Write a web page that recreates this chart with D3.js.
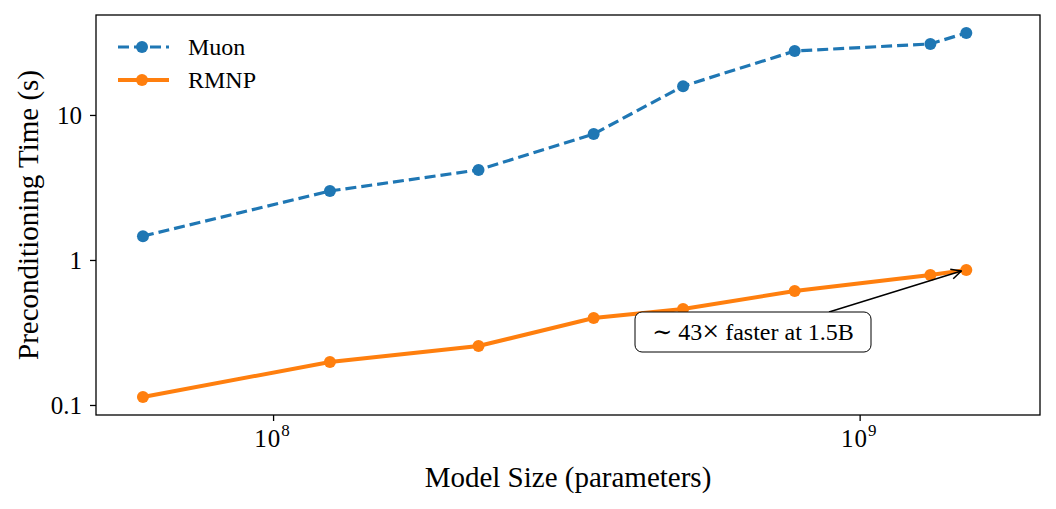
<!DOCTYPE html>
<html>
<script src="https://d3js.org/d3.v7.min.js"></script>

<head>
    <style>
        body {
            margin: 0;
            background-color: white;
            font-family: "Liberation Serif", "DejaVu Serif", serif;
        }
    </style>
</head>

<body>
    <div id="vis"></div>
</body>
<script>
    // model sizes (parameters) and preconditioning times (s)
    const modelSizes = [6.0e7, 1.25e8, 2.24e8, 3.52e8, 5.0e8, 7.75e8, 1.32e9, 1.52e9];
    const muonTimes = [1.46, 2.99, 4.18, 7.39, 15.8, 27.6, 30.9, 36.8];
    const rmnpTimes = [0.1135, 0.198, 0.255, 0.398, 0.459, 0.611, 0.788, 0.853];
    const yTicks = [0.1, 1, 10];
    const xTicks = [1e8, 1e9];

    const width = 1056,
        height = 509;
    const margin = { left: 96, right: 16, top: 15, bottom: 94 };

    const svg = d3.select("#vis").append("svg").attr("width", width).attr("height", height);

    const x = d3.scaleLog()
        .domain([4.99e7, 2.03e9])
        .range([margin.left, width - margin.right]);
    const y = d3.scaleLog()
        .domain([0.0853, 48.9])
        .range([height - margin.bottom, margin.top]);

    const series = [
        { name: "Muon", values: muonTimes, color: "#1f77b4", dash: "11,5", width: 3.2 },
        { name: "RMNP", values: rmnpTimes, color: "#ff7f0e", dash: null, width: 4 }
    ];

    // axes
    const xAxis = svg.append("g")
        .attr("transform", `translate(0,${height - margin.bottom})`)
        .call(d3.axisBottom(x).tickValues(xTicks).tickSize(6).tickFormat(""));
    const yAxis = svg.append("g")
        .attr("transform", `translate(${margin.left},0)`)
        .call(d3.axisLeft(y).tickValues(yTicks).tickSize(6).tickFormat(d => d3.format("~g")(d)));
    [xAxis, yAxis].forEach(a => {
        a.select(".domain").remove();
        a.selectAll("line").attr("stroke", "black").attr("stroke-width", 1.3);
    });
    yAxis.selectAll("text")
        .attr("font-size", 25)
        .attr("font-family", "Liberation Serif")
        .attr("fill", "black")
        .attr("x", -14)
        .attr("dy", "0.34em");

    // x tick labels with superscript exponent
    xTicks.forEach(t => {
        const txt = svg.append("text")
            .attr("x", x(t) - 1)
            .attr("y", 447)
            .attr("text-anchor", "middle")
            .attr("font-size", 25)
            .attr("fill", "black");
        txt.append("tspan").attr("letter-spacing", 1).text("10");
        txt.append("tspan")
            .attr("dy", -11)
            .attr("font-size", 17)
            .text(Math.round(Math.log10(t)));
    });

    // frame
    svg.append("rect")
        .attr("x", margin.left)
        .attr("y", margin.top)
        .attr("width", width - margin.left - margin.right)
        .attr("height", height - margin.top - margin.bottom)
        .attr("fill", "none")
        .attr("stroke", "black")
        .attr("stroke-width", 1.3);

    // lines + markers
    const line = d3.line()
        .x((d, i) => x(modelSizes[i]))
        .y(d => y(d));
    series.forEach(s => {
        svg.append("path")
            .datum(s.values)
            .attr("d", line)
            .attr("fill", "none")
            .attr("stroke", s.color)
            .attr("stroke-width", s.width)
            .attr("stroke-dasharray", s.dash);
        svg.append("g")
            .selectAll("circle")
            .data(s.values)
            .join("circle")
            .attr("cx", (d, i) => x(modelSizes[i]))
            .attr("cy", d => y(d))
            .attr("r", 6)
            .attr("fill", s.color);
    });

    // annotation
    const last = modelSizes.length - 1;
    const speedup = Math.round(muonTimes[last] / rmnpTimes[last]);
    const tipX = x(modelSizes[last]) - 5,
        tipY = y(rmnpTimes[last]) + 1;
    const boxX = 635, boxY = 312, boxW = 236, boxH = 40;
    svg.append("defs").append("marker")
        .attr("id", "arrow")
        .attr("viewBox", "0 0 12 12")
        .attr("refX", 11)
        .attr("refY", 6)
        .attr("markerWidth", 12)
        .attr("markerHeight", 12)
        .attr("markerUnits", "userSpaceOnUse")
        .attr("orient", "auto")
        .append("path")
        .attr("d", "M1,1 L11,6 L1,11")
        .attr("fill", "none")
        .attr("stroke", "black")
        .attr("stroke-width", 1.5);
    svg.append("line")
        .attr("x1", 829)
        .attr("y1", boxY)
        .attr("x2", tipX)
        .attr("y2", tipY)
        .attr("stroke", "black")
        .attr("stroke-width", 1.5)
        .attr("marker-end", "url(#arrow)");
    svg.append("rect")
        .attr("x", boxX)
        .attr("y", boxY)
        .attr("width", boxW)
        .attr("height", boxH)
        .attr("rx", 7)
        .attr("fill", "white")
        .attr("stroke", "black")
        .attr("stroke-width", 1);
    const ann = svg.append("text")
        .attr("x", boxX + boxW / 2)
        .attr("y", boxY + boxH / 2 + 8)
        .attr("text-anchor", "middle")
        .attr("font-size", 24)
        .attr("fill", "black");
    ann.append("tspan").text("\u223C " + speedup);
    ann.append("tspan").attr("font-size", 30).attr("dy", 1).text("\u00D7");
    ann.append("tspan").attr("dy", -1).text(" faster at 1.5B");

    // legend
    const legend = svg.append("g");
    series.forEach((s, i) => {
        const ly = 47 + i * 33;
        legend.append("line")
            .attr("x1", 118).attr("x2", 169)
            .attr("y1", ly).attr("y2", ly)
            .attr("stroke", s.color)
            .attr("stroke-width", s.width)
            .attr("stroke-dasharray", s.dash);
        legend.append("circle")
            .attr("cx", 142).attr("cy", ly).attr("r", 6)
            .attr("fill", s.color);
        legend.append("text")
            .attr("x", 188).attr("y", ly + 8)
            .attr("font-size", 24)
            .attr("fill", "black")
            .text(s.name);
    });

    // axis labels
    svg.append("text")
        .attr("x", (margin.left + width - margin.right) / 2)
        .attr("y", 487)
        .attr("text-anchor", "middle")
        .attr("font-size", 29)
        .attr("fill", "black")
        .text("Model Size (parameters)");
    svg.append("text")
        .attr("transform", `translate(38,${(margin.top + height - margin.bottom) / 2}) rotate(-90)`)
        .attr("text-anchor", "middle")
        .attr("font-size", 29)
        .attr("fill", "black")
        .text("Preconditioning Time (s)");
</script>

</html>
